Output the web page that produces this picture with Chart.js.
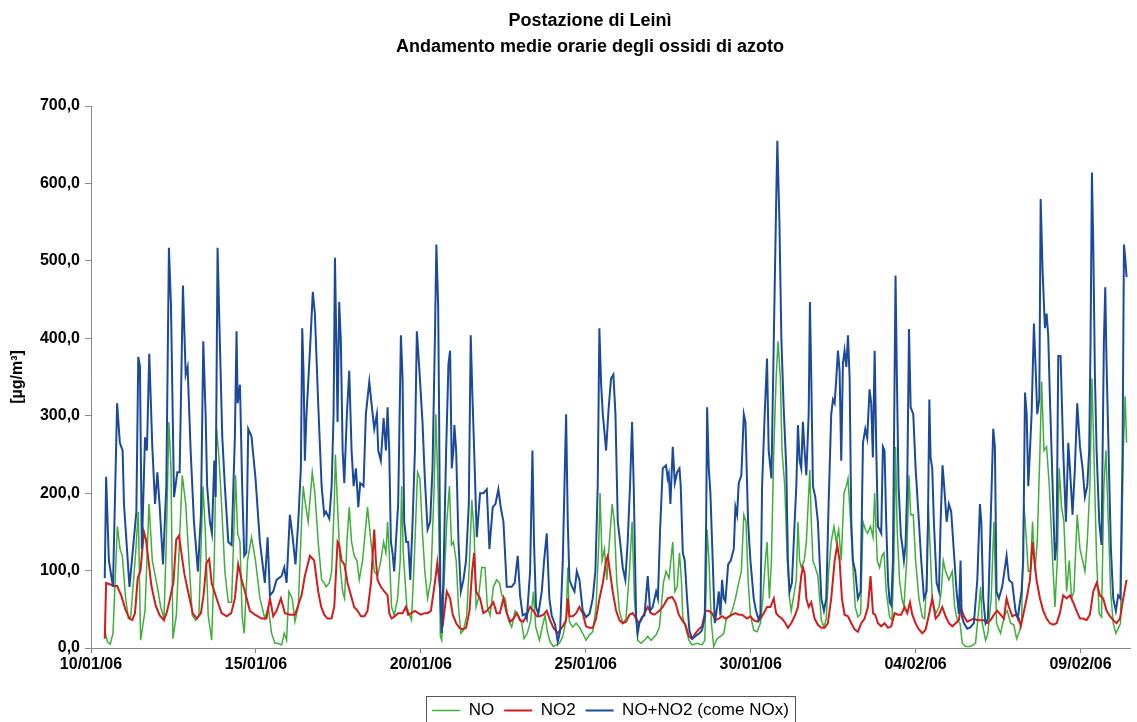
<!DOCTYPE html>
<html>
<head>
<meta charset="utf-8">
<title>Postazione di Leinì - ossidi di azoto</title>
<script src="https://cdn.jsdelivr.net/npm/chart.js@4.4.1/dist/chart.umd.min.js"></script>
<style>
  html, body { margin: 0; padding: 0; background: #fff; }
</style>
</head>
<body>
<canvas id="noxChart" width="1137" height="722"></canvas>
<script>
// hours counted from 10/01/06 00:00, values in µg/m³
const tickHours = [0, 120, 240, 360, 480, 600, 720];
const tickLabels = ['10/01/06', '15/01/06', '20/01/06', '25/01/06', '30/01/06', '04/02/06', '09/02/06'];
const seriesNames = ['NO', 'NO2', 'NO+NO2 (come NOx)'];

const noPoints = [[10,23],[12,8],[14,5],[16,19],[19.2,157],[21.1,128],[22.8,119],[25.2,64],[27.2,38],[28.9,40],[32.5,123],[34.4,176],[36.1,10],[39.3,48],[42.2,186],[44.6,113],[48.3,79],[50.7,53],[53.1,38],[54.8,137],[56.7,292],[58.2,232],[59.6,12],[62.1,42],[66.4,223],[68.9,186],[71.3,113],[73.7,42],[76.1,36],[78.5,42],[81.5,209],[83.2,150],[85.3,42],[87.8,10],[89.7,113],[91.4,283],[93.1,246],[95,186],[97.4,99],[99.9,59],[102.3,59],[104.2,163],[105.2,223],[106.7,148],[108.4,137],[110,40],[111.5,19],[113.9,113],[116.8,143],[119.7,113],[122.9,64],[126.5,38],[129,53],[131.4,19],[133.8,6],[136,6],[138.7,4],[140.6,19],[142.3,10],[144,73],[146.4,64],[148.4,34],[150.8,53],[153.2,163],[154.4,209],[155.6,191],[158,163],[161,227],[162.9,200],[165.3,137],[167.8,88],[169.7,84],[171,79],[173.4,84],[175.1,99],[177,186],[177.8,250],[179.9,163],[181.4,104],[183.1,73],[184.5,64],[186.2,137],[187.9,182],[189.6,137],[191.5,119],[193.5,113],[195.2,88],[197.6,113],[201.2,182],[203.7,137],[206.1,99],[208.5,93],[210.9,113],[212.9,137],[214.6,123],[215.8,163],[217,123],[218.7,53],[220.6,42],[223.1,64],[225,113],[226,209],[227.2,123],[229.8,53],[231.5,44],[233.2,36],[235.2,113],[237.6,227],[239.3,219],[241.2,148],[242.9,99],[244.9,64],[247.3,88],[249.7,209],[250.9,302],[252.6,200],[253.5,113],[254.2,15],[255.2,10],[257,88],[258.9,163],[260.8,209],[262.3,133],[263.7,137],[265.7,113],[267.4,53],[269.1,19],[271,23],[273.4,42],[275.4,113],[277.1,191],[278.8,148],[280.2,53],[281.9,64],[284.3,104],[286.7,104],[288.4,53],[290.4,42],[292.8,79],[295.2,88],[297.2,84],[298.9,68],[301.3,64],[303.7,36],[306.1,27],[308.6,48],[311,42],[313.4,32],[315.1,12],[317.5,19],[320,36],[321.9,73],[323.6,27],[326.3,10],[328.7,30],[330.4,42],[332.1,21],[334,8],[336.5,2],[340.8,6],[343.3,15],[345.7,36],[346.9,104],[348.1,34],[350.5,27],[353,32],[355.4,27],[357.8,19],[360.2,10],[362.7,17],[365.1,21],[367.5,53],[369.5,137],[370.4,200],[371.9,113],[373.6,128],[375.3,88],[377.2,137],[379.2,186],[380.8,163],[382.5,88],[384.5,48],[386.9,32],[389.3,38],[391.8,99],[393.7,163],[395.4,64],[397.8,10],[400.2,6],[402.7,10],[405.1,15],[407.5,10],[411.2,17],[413.6,27],[416.5,84],[418.4,99],[420.6,90],[423.3,137],[424.8,73],[426.5,79],[428.2,123],[429.6,88],[430.6,40],[432.5,27],[435,10],[437.4,4],[441,6],[444.6,4],[446.6,10],[447.6,79],[448.3,153],[449.5,119],[451.4,32],[453.1,2],[455.6,12],[458,15],[460.4,19],[462.1,36],[464.8,42],[466.5,48],[468.9,64],[471.3,84],[473.2,99],[475,172],[476.6,163],[478.1,88],[479.8,42],[482.2,23],[484.6,21],[487.1,32],[488.8,64],[490.7,113],[491.9,137],[493.6,64],[495.1,113],[496.8,255],[498.5,348],[499.9,396],[501.6,348],[502.8,255],[504.8,209],[506.6,113],[508.3,64],[509.5,48],[511,64],[513.2,88],[514.4,163],[515.6,113],[516.8,104],[519,113],[520.5,137],[523,230],[524.1,163],[525.3,113],[527,104],[528.9,93],[531.4,36],[533.3,27],[535,38],[536.7,99],[538.6,137],[540.6,157],[542.3,137],[544,153],[545.9,113],[547.9,200],[549.6,209],[550.8,219],[552.7,163],[554.4,104],[556.1,53],[558,40],[560,44],[561.7,163],[563.4,153],[565,148],[567.2,157],[569,143],[570.2,200],[572.1,113],[573.8,104],[575.5,119],[577,123],[578.6,73],[581.1,40],[582.8,36],[584.2,113],[585.4,260],[586.6,153],[588.3,88],[590,64],[591.5,53],[593.5,113],[595.2,223],[596.4,172],[598.3,172],[600,113],[602.4,64],[604.9,40],[606.6,38],[608,88],[609.2,186],[610.4,137],[612.1,64],[614.6,44],[617,53],[618.7,73],[620.1,113],[621.8,99],[624.2,88],[626.7,99],[628.4,53],[630.3,36],[632.3,32],[634,6],[636.4,2],[640,2],[643.6,6],[646.1,53],[647.3,79],[648.5,32],[650.9,10],[652.6,19],[655,64],[657,163],[658.9,32],[661.8,19],[664.7,42],[666.7,48],[669.1,32],[671.5,30],[673.5,12],[675.4,21],[677.1,32],[678.8,186],[680.3,148],[682,99],[683.5,99],[685.1,163],[686.8,99],[688.5,137],[690.5,255],[691.7,344],[693.4,255],[695.3,260],[697.3,209],[699.7,113],[701.4,53],[703.1,113],[704.5,232],[706.2,182],[707.9,163],[709.9,73],[711.8,113],[713.5,64],[715.2,73],[717.6,172],[719.6,128],[721.5,113],[723.2,99],[724.9,137],[726.8,209],[728.3,348],[729.7,255],[731.7,113],[733.6,44],[735.3,40],[737,209],[738.5,255],[740.2,163],[741.9,73],[743.8,32],[745.7,19],[747.4,25],[749.1,32],[751.1,255],[752.5,325],[753.5,265]];

const no2Points = [[10,12],[11,84],[14,82],[17,80],[19,80],[22,68],[25,50],[28,38],[30,36],[32,45],[34,90],[36,100],[38.5,150],[40,140],[42,110],[44,80],[47,55],[50,42],[53,36],[55,45],[57,60],[60,85],[62,140],[64,145],[66,120],[68,95],[71,70],[74,45],[77,38],[80,45],[82,70],[84,110],[86,115],[87.8,84],[91.4,64],[95,45],[98.7,41],[102,45],[104.7,64],[107.1,108],[109.6,88],[112,73],[115.6,48],[119.3,43],[124.1,38],[127.7,38],[130.2,64],[132.6,41],[135,48],[138.2,64],[141.1,45],[144.7,43],[148.4,43],[153.2,68],[155.6,93],[159.3,119],[162.4,113],[165.3,73],[167.5,53],[169.7,43],[172.1,38],[175,38],[177,53],[179.4,137],[180.6,133],[182.3,113],[184.3,108],[186.7,84],[189.1,68],[191.5,53],[194,48],[196.4,41],[199,41],[201.2,48],[203.7,84],[206.1,153],[207.3,113],[208.5,88],[210.9,79],[213.4,73],[215.8,68],[217,45],[218.7,38],[221.1,41],[223.5,45],[226.7,45],[229.1,53],[230.8,43],[233,45],[235.7,48],[238.1,45],[240,43],[242.5,45],[244.9,45],[247.3,48],[250.2,84],[252,110],[254,75],[256.4,36],[258.9,73],[261.3,64],[263.2,43],[265.7,32],[268.1,26],[270.5,24],[272.9,26],[275.4,48],[277.3,99],[278.8,123],[280.2,73],[283.1,64],[285.5,45],[288,48],[290.4,53],[292.8,59],[295.2,45],[297.5,45],[300.1,64],[302.5,45],[305,34],[307.4,38],[309.8,45],[312.2,36],[314.6,34],[317.1,43],[319.5,53],[321.9,48],[324.3,41],[326.7,41],[329.2,43],[331.6,48],[334,36],[336.5,26],[339.6,19],[343.3,28],[345.7,36],[346.9,64],[348.1,41],[350.5,41],[353,45],[355.4,53],[357.8,45],[360.2,28],[362.7,26],[365.1,26],[367.5,38],[370,64],[372.4,84],[374.8,113],[376,119],[377.2,104],[379.6,73],[382.1,48],[384.5,36],[386.9,32],[389.3,34],[391.8,43],[394.2,45],[396.6,38],[398.5,32],[400.2,36],[402.7,45],[405.1,53],[407.5,45],[409.9,43],[413.6,48],[416,53],[419.6,64],[422.8,66],[425.2,59],[427.7,43],[430.1,36],[432.5,30],[435,15],[437.4,12],[439.8,19],[442.2,24],[444.6,28],[447.1,48],[449.5,48],[451.9,45],[454.3,36],[456.8,38],[459.2,41],[461.6,38],[464.8,41],[466.5,43],[468.9,45],[471.3,43],[473.7,43],[477.4,38],[479.8,41],[482.2,36],[484.6,34],[487.1,38],[489.5,45],[491.9,53],[494.4,53],[496.8,64],[498.5,45],[500.4,41],[502.8,38],[505.3,32],[507.1,26],[509.5,32],[512,41],[514.4,53],[516.8,93],[518,104],[519.2,97],[520.5,64],[522.2,53],[524.1,59],[526.5,38],[528.9,30],[531.4,26],[533.8,26],[536.2,32],[538.6,64],[541.1,113],[543,133],[544.7,113],[546.4,64],[548.3,43],[550.8,41],[553.2,32],[555.6,24],[558,21],[560.5,32],[562.9,38],[565.3,53],[567.2,93],[569,45],[570.6,43],[572.6,32],[575,28],[577.4,32],[579.9,26],[582.3,28],[584.7,45],[587.1,43],[589.5,43],[592,53],[593.9,45],[595.9,59],[597.6,43],[600,32],[602.4,24],[604.9,19],[607.3,24],[609.7,43],[612.1,64],[614.6,38],[617,43],[619.4,53],[621.8,41],[624.2,32],[626.7,28],[629.1,32],[631.5,36],[632.7,53],[635.2,41],[637.6,34],[640,36],[642.4,38],[644.9,36],[647.3,36],[649.7,36],[652.1,32],[654.6,36],[657,43],[659.4,48],[661.8,43],[664.2,38],[666.2,64],[667.9,53],[670.3,41],[672.7,43],[675.2,38],[676.5,28],[678.3,43],[680.8,64],[683.2,88],[685.1,137],[686.1,119],[688,88],[690.5,64],[692.9,48],[695.3,38],[697.7,32],[700.2,30],[702.6,32],[705,45],[707.4,68],[709.9,64],[712.3,68],[714.7,59],[717.1,48],[719.6,38],[722,38],[724.4,36],[726.8,43],[729.3,73],[731.7,84],[734.1,68],[736.5,64],[739,48],[741.4,41],[743.8,36],[746.2,32],[748.7,38],[751.1,64],[753.5,88]];

const noxPoints = [[10,90],[11,221],[13,113],[16,79],[19,316],[21,265],[23,255],[24,186],[28,79],[33,176],[34.4,376],[35.6,364],[37,128],[39.3,272],[40.7,255],[42.4,380],[44.6,260],[46.6,186],[48.3,227],[50,182],[52.4,108],[54.8,209],[56.7,517],[58.2,442],[60.4,195],[62.8,227],[64.5,227],[66.9,468],[68.9,353],[70.3,363],[72.5,255],[74.9,163],[77.8,99],[80,172],[81.7,396],[83.4,302],[84.5,209],[86.5,163],[88,148],[89.7,242],[90.7,195],[92.1,517],[93.1,442],[95.5,273],[97.4,209],[99.9,137],[102.3,133],[104.7,273],[105.9,409],[106.7,316],[108.4,340],[110,209],[111.5,119],[113,123],[114.4,283],[116.8,273],[119.7,219],[122.9,137],[126.5,84],[128.5,143],[130.2,68],[132.6,73],[135,88],[138.7,93],[140.6,104],[142.3,84],[144.7,172],[146.4,148],[148.8,108],[150.8,163],[152.7,232],[153.7,413],[154.7,353],[155.6,242],[156.8,302],[159.3,384],[161.4,460],[162.9,432],[165.3,316],[167.8,209],[169.7,172],[171,176],[173.4,167],[175.1,209],[176.5,302],[177.5,504],[178.5,396],[179.4,292],[180.6,447],[181.8,396],[183.1,255],[184.3,213],[186.2,302],[187.9,358],[189.6,255],[191.1,209],[192.8,232],[194.5,182],[195.9,213],[198.3,209],[200,302],[202.5,344],[204.1,316],[206.1,283],[208,302],[209,255],[210.9,242],[212.9,297],[214.6,255],[215.8,311],[217,255],[218.2,137],[219.4,123],[220.6,99],[223.5,186],[225.5,404],[226.7,348],[227.9,163],[229.4,137],[230.8,137],[232.3,88],[234,163],[235.7,255],[237.1,409],[238.8,363],[241.2,292],[242.9,219],[244.9,153],[246.8,163],[248.5,232],[250.2,396],[251.3,521],[252.6,442],[253.3,300],[254.2,64],[255.2,19],[256.4,88],[258.4,255],[260.1,367],[261.3,384],[262.5,232],[263.7,255],[264.4,288],[265.7,255],[267.4,137],[269.1,73],[271,88],[272.9,113],[274.9,186],[276.3,404],[277.5,327],[278.8,255],[280.7,143],[283.1,200],[285.5,200],[288,205],[289.9,128],[292.3,182],[294.3,186],[296.4,205],[298.1,182],[300.1,163],[302.5,79],[306.1,79],[308.3,84],[310.5,119],[312.2,68],[314.1,42],[316,44],[317.1,38],[319.5,99],[321.2,255],[322.4,133],[323.8,53],[325.5,44],[328,73],[329.7,113],[331.6,148],[333.5,64],[335.2,42],[337.7,30],[339.6,8],[341.3,21],[343.3,113],[344.5,209],[345.7,302],[346.9,163],[348.1,88],[350.1,79],[351.8,73],[353.5,99],[355.4,88],[357.8,48],[360.2,40],[362.7,44],[365.1,64],[367,99],[368.7,209],[369.9,413],[371.2,340],[372.4,302],[373.6,279],[374.8,255],[376.7,311],[378.4,348],[380.1,353],[381.6,302],[383.3,163],[385,137],[386.9,104],[388.8,88],[390.5,137],[392.2,209],[393.7,292],[394.9,209],[396.6,42],[397.8,19],[399,32],[401,40],[402.7,42],[405.1,93],[406.8,48],[408.7,53],[411.2,73],[412.5,64],[414.1,153],[416,232],[418.4,236],[419.6,219],[420.4,225],[421.6,186],[423.3,260],[424.8,213],[426.5,227],[428.2,232],[429.1,209],[430.6,123],[432,113],[433.7,64],[435.4,23],[437.4,12],[439,14],[441,17],[442.7,19],[444.6,23],[446.6,40],[447.6,163],[448.3,311],[449.5,232],[450.7,200],[451.9,137],[453.9,32],[455.6,53],[456.8,73],[458,42],[459.2,88],[460.4,64],[461.6,60],[463.6,108],[465.5,113],[467.7,128],[468.9,182],[470.1,172],[471.3,213],[473.2,223],[475,302],[476.2,292],[478.1,163],[479.8,113],[482.2,64],[483.9,48],[485.9,36],[487.1,44],[488.3,209],[490.2,302],[491.9,374],[493.1,255],[495.1,219],[496.8,396],[498.5,572],[499.4,655],[500.9,551],[502.3,401],[504,311],[505.9,232],[507.1,113],[508.3,73],[510,84],[512,163],[513.2,209],[514.4,288],[515.6,242],[516.8,232],[518,292],[519.2,255],[520.5,223],[522.2,302],[523.1,447],[524.1,348],[525.3,209],[527,195],[528.9,163],[531.4,64],[533.3,48],[535,64],[536.7,186],[538.6,302],[539.9,321],[541.1,316],[542.3,348],[543.5,384],[544.7,358],[545.9,242],[547.1,367],[548.3,384],[549.6,363],[550.8,404],[552,348],[553.2,163],[554.4,113],[556.1,99],[558,64],[560,73],[561.7,265],[563.4,283],[564.8,271],[566.5,334],[567.7,316],[568.9,246],[570.2,384],[571.4,255],[572.6,157],[573.8,153],[575,148],[576.2,260],[577.4,255],[578.6,163],[579.9,88],[581.1,59],[582.3,55],[583.5,113],[584.7,348],[585.4,481],[586.4,348],[587.6,209],[589.3,145],[590.3,133],[591.5,113],[592.7,133],[593.9,209],[595.2,412],[596.4,311],[598.3,302],[600,232],[602.4,163],[604.1,113],[606.1,64],[608,73],[609,163],[610,321],[610.9,246],[612.1,232],[613.3,163],[615.3,84],[617,73],[618.2,163],[619.6,236],[620.6,213],[622.6,163],[624.2,186],[625.9,176],[627.9,123],[629.8,73],[631.5,44],[632.7,113],[633.5,42],[635.2,32],[637.6,25],[640,27],[642.4,32],[644.9,88],[646.8,186],[647.8,163],[649.2,64],[650.9,32],[652.6,38],[654.6,163],[656.5,283],[657.7,260],[658.9,73],[660.6,64],[663,79],[666.2,119],[667.9,88],[670.3,84],[672.7,48],[674.4,38],[675.4,53],[677.1,73],[678.3,113],[679.6,330],[680.8,302],[682,209],[683.2,255],[684.4,302],[686.1,419],[687.6,348],[688.5,302],[690,321],[691,580],[692.4,487],[694.1,413],[695.3,432],[696.5,404],[697.7,325],[699.7,209],[701.4,113],[702.6,137],[703.8,377],[705.5,377],[707.4,255],[709.4,163],[711.1,265],[712.3,232],[714.2,172],[715.9,232],[717.6,316],[719.6,260],[721.5,232],[723.2,195],[724.9,209],[726.3,255],[727.3,396],[728.3,614],[729.3,517],[730.5,348],[731.7,255],[733.6,163],[735.3,133],[737,396],[738,466],[738.9,371],[740.4,255],[742.1,128],[743.8,64],[745.7,48],[747.4,68],[749,64],[750.6,255],[751.6,521],[752.5,504],[753.5,479]];

const FONT = "'Liberation Sans', Arial, Helvetica, sans-serif";
const toXY = pts => pts.map(p => ({ x: p[0], y: p[1] }));

// two-line bold title, a bit right of the canvas centre like the original
const titlePlugin = {
  id: 'twoLineTitle',
  afterDraw(chart) {
    const c = chart.ctx;
    c.save();
    c.fillStyle = '#000';
    c.font = 'bold 18px ' + FONT;
    c.textAlign = 'center';
    c.textBaseline = 'middle';
    c.fillText('Postazione di Leinì', 590, 21);
    c.fillText('Andamento medie orarie degli ossidi di azoto', 590, 47);
    c.restore();
  }
};

// thin frame around the legend
const legendFrame = {
  id: 'legendFrame',
  afterDraw(chart) {
    const boxes = chart.legend && chart.legend.legendHitBoxes;
    if (!boxes || !boxes.length) return;
    const last = boxes[boxes.length - 1];
    const x0 = boxes[0].left - 6;
    const x1 = last.left + last.width + 6;
    const y0 = boxes[0].top - 6;
    const c = chart.ctx;
    c.save();
    c.strokeStyle = '#555';
    c.lineWidth = 1;
    c.strokeRect(Math.round(x0) + 0.5, Math.round(y0) + 0.5, Math.round(x1 - x0), 40);
    c.restore();
  }
};

const ctx = document.getElementById('noxChart');
new Chart(ctx, {
  type: 'line',
  data: {
    datasets: [
      { label: seriesNames[0], data: toXY(noPoints), borderColor: '#3fae3a', backgroundColor: '#3fae3a', borderWidth: 1.5, order: 3 },
      { label: seriesNames[1], data: toXY(no2Points), borderColor: '#d11d1d', backgroundColor: '#d11d1d', borderWidth: 2, order: 2 },
      { label: seriesNames[2], data: toXY(noxPoints), borderColor: '#1b4a9a', backgroundColor: '#1b4a9a', borderWidth: 2, order: 1 }
    ]
  },
  options: {
    responsive: false,
    animation: false,
    devicePixelRatio: 1,
    elements: { point: { radius: 0 }, line: { tension: 0 } },
    layout: { padding: { top: 106, right: 7, left: 0, bottom: 0 } },
    scales: {
      x: {
        type: 'linear',
        min: 0,
        max: 756,
        afterBuildTicks: s => { s.ticks = tickHours.map(v => ({ value: v })); },
        afterFit: s => { s.height = 44; },
        ticks: {
          callback: (v, i) => tickLabels[i],
          font: { family: FONT, size: 16, weight: 'bold' },
          color: '#000',
          maxRotation: 0,
          autoSkip: false,
          padding: 2
        },
        grid: { drawOnChartArea: false, drawTicks: true, tickLength: 5, color: '#8a8a8a' },
        border: { color: '#8a8a8a' }
      },
      y: {
        min: 0,
        max: 700,
        afterFit: s => { s.width = 91; },
        ticks: {
          stepSize: 100,
          callback: v => v.toFixed(1).replace('.', ','),
          font: { family: FONT, size: 16, weight: 'bold' },
          color: '#000',
          padding: 5
        },
        grid: { drawOnChartArea: false, drawTicks: true, tickLength: 6, color: '#8a8a8a' },
        border: { color: '#8a8a8a' },
        title: {
          display: true,
          text: '[µg/m³]',
          font: { family: FONT, size: 16, weight: 'bold' },
          color: '#000',
          padding: { top: 8, bottom: 0 }
        }
      }
    },
    plugins: {
      legend: {
        position: 'bottom',
        fullSize: false,
        maxHeight: 30,
        labels: {
          usePointStyle: true,
          pointStyle: 'line',
          pointStyleWidth: 28,
          font: { family: FONT, size: 17 },
          color: '#000',
          padding: 10,
          sort: (a, b) => a.datasetIndex - b.datasetIndex
        }
      },
      title: { display: false },
      tooltip: { enabled: false }
    }
  },
  plugins: [titlePlugin, legendFrame]
});
</script>
</body>
</html>
